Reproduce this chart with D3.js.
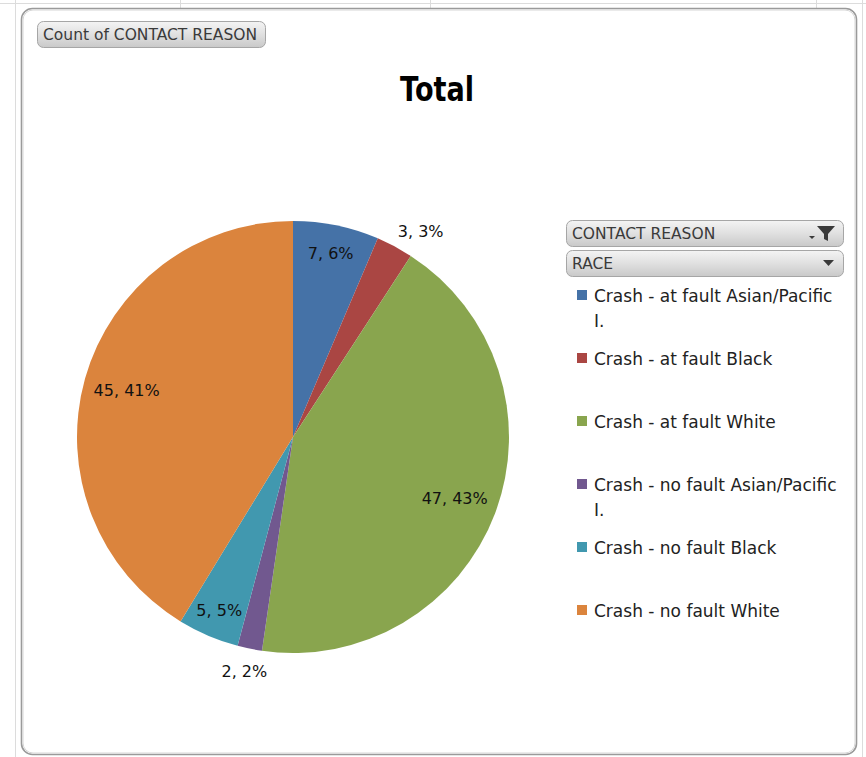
<!DOCTYPE html>
<html>
<head>
<meta charset="utf-8">
<script src="https://cdn.jsdelivr.net/npm/d3@7/dist/d3.min.js"></script>
<style>
  html, body { margin: 0; padding: 0; background: #ffffff; }
  svg { display: block; }
  text { font-family: "DejaVu Sans", Verdana, sans-serif; }
</style>
</head>
<body>
<svg id="chart" width="866" height="757"></svg>
<script>
// ---- data ----
const categories = [
  "Crash - at fault Asian/Pacific I.",
  "Crash - at fault Black",
  "Crash - at fault White",
  "Crash - no fault Asian/Pacific I.",
  "Crash - no fault Black",
  "Crash - no fault White"
];
const values = [7, 3, 47, 2, 5, 45];
const colors = ["#4572A7", "#AA4643", "#89A54E", "#71588F", "#4198AF", "#DB843D"];
const titleText = "Total";
const valueFieldLabel = "Count of CONTACT REASON";
const filterFields = ["CONTACT REASON", "RACE"];

// ---- layout ----
const svg = d3.select("#chart");
const W = 866, H = 757;

// faint spreadsheet gridlines behind the chart
const grid = svg.append("g").attr("stroke", "#dcdcdc").attr("stroke-width", 1);
grid.append("line").attr("x1", 0).attr("x2", W).attr("y1", 3.5).attr("y2", 3.5);
grid.append("line").attr("x1", 15.5).attr("x2", 15.5).attr("y1", 0).attr("y2", H);
grid.append("line").attr("x1", 862.5).attr("x2", 862.5).attr("y1", 0).attr("y2", H);
[180, 430, 816].forEach(x => grid.append("line").attr("x1", x + .5).attr("x2", x + .5).attr("y1", 0).attr("y2", 8));

// chart area frame
svg.append("rect")
  .attr("x", 21.5).attr("y", 8.5).attr("width", 835).attr("height", 746)
  .attr("rx", 11).attr("ry", 11)
  .attr("fill", "#ffffff").attr("stroke", "#9a9a9a").attr("stroke-width", 1.6);
svg.append("rect")
  .attr("x", 23).attr("y", 10).attr("width", 832).attr("height", 743)
  .attr("rx", 10).attr("ry", 10)
  .attr("fill", "none").attr("stroke", "#d6d6d6").attr("stroke-width", 1);

// button gradient
const defs = svg.append("defs");
const grad = defs.append("linearGradient").attr("id", "btn").attr("x1", 0).attr("x2", 0).attr("y1", 0).attr("y2", 1);
grad.append("stop").attr("offset", "0%").attr("stop-color", "#f4f4f4");
grad.append("stop").attr("offset", "45%").attr("stop-color", "#e2e2e2");
grad.append("stop").attr("offset", "100%").attr("stop-color", "#c9c9c9");

function button(x, y, w, h, label) {
  const g = svg.append("g");
  g.append("rect").attr("x", x + .5).attr("y", y + .5).attr("width", w).attr("height", h)
    .attr("rx", 6).attr("ry", 6).attr("fill", "url(#btn)").attr("stroke", "#a6a6a6");
  g.append("text").attr("x", x + 6).attr("y", y + h / 2 + 5.5)
    .attr("font-size", 15.5).attr("fill", "#3a3a3a").text(label);
  return g;
}
button(37, 21, 228, 26, valueFieldLabel);
const b1 = button(566, 220, 277, 26, filterFields[0]);
const b2 = button(566, 250, 277, 26, filterFields[1]);
// funnel icon + small arrow
b1.append("path").attr("d", "M817,226 L835,226 L828,234 L828,241 L824,239 L824,234 Z").attr("fill", "#3a3a3a");
b1.append("path").attr("d", "M809,236 L815,236 L812,239 Z").attr("fill", "#3a3a3a");
b2.append("path").attr("d", "M823,260 L834,260 L828.5,266 Z").attr("fill", "#3a3a3a");

// title
svg.append("text")
  .attr("x", 400).attr("y", 101)
  .attr("font-weight", "bold").attr("font-size", 34).attr("fill", "#000")
  .attr("textLength", 74).attr("lengthAdjust", "spacingAndGlyphs")
  .text(titleText);

// ---- pie ----
const cx = 293, cy = 437, R = 216;
const total = d3.sum(values);
const pie = d3.pie().sort(null).value(d => d).startAngle(0).endAngle(2 * Math.PI);
const arcs = pie(values);
const arc = d3.arc().innerRadius(0).outerRadius(R);
const color = d3.scaleOrdinal().domain(categories).range(colors);

const pg = svg.append("g").attr("transform", `translate(${cx},${cy})`);
pg.selectAll("path.slice").data(arcs).enter().append("path")
  .attr("class", "slice")
  .attr("d", arc)
  .attr("fill", (d, i) => color(categories[i]));

// data labels
pg.selectAll("text.lbl").data(arcs).enter().append("text")
  .attr("class", "lbl")
  .attr("font-size", 16).attr("fill", "#111")
  .attr("text-anchor", "middle")
  .text(d => `${d.data}, ${Math.round(d.data / total * 100)}%`)
  .each(function (d) {
    const frac = d.data / total;
    const a = (d.startAngle + d.endAngle) / 2;
    let x, y;
    if (frac < 0.04) {
      const r = R * 1.05;
      x = Math.sin(a) * r + Math.sin(a) * 36 + 4;
      y = -Math.cos(a) * r - Math.cos(a) * 9 + 2.5;
    } else {
      const r = R * (frac < 0.1 ? 0.87 : 0.8);
      x = Math.sin(a) * r;
      y = -Math.cos(a) * r;
    }
    d3.select(this).attr("x", x).attr("y", y + 6);
  });

// ---- legend ----
const lg = svg.append("g");
const legX = 577, legY0 = 296, legStep = 63, wrapW = 250;
categories.forEach((c, i) => {
  const y = legY0 + i * legStep;
  lg.append("rect").attr("x", legX).attr("y", y - 6).attr("width", 10).attr("height", 10)
    .attr("fill", color(c));
  const t = lg.append("text").attr("x", legX + 17).attr("y", y + 6)
    .attr("font-size", 17).attr("fill", "#222");
  const words = c.split(" ");
  let line = [], tspan = t.append("tspan").attr("x", legX + 17).attr("dy", 0);
  words.forEach(w => {
    line.push(w);
    tspan.text(line.join(" "));
    if (tspan.node().getComputedTextLength() > wrapW && line.length > 1) {
      line.pop();
      tspan.text(line.join(" "));
      line = [w];
      tspan = t.append("tspan").attr("x", legX + 17).attr("dy", 25).text(w);
    }
  });
});
</script>
</body>
</html>
